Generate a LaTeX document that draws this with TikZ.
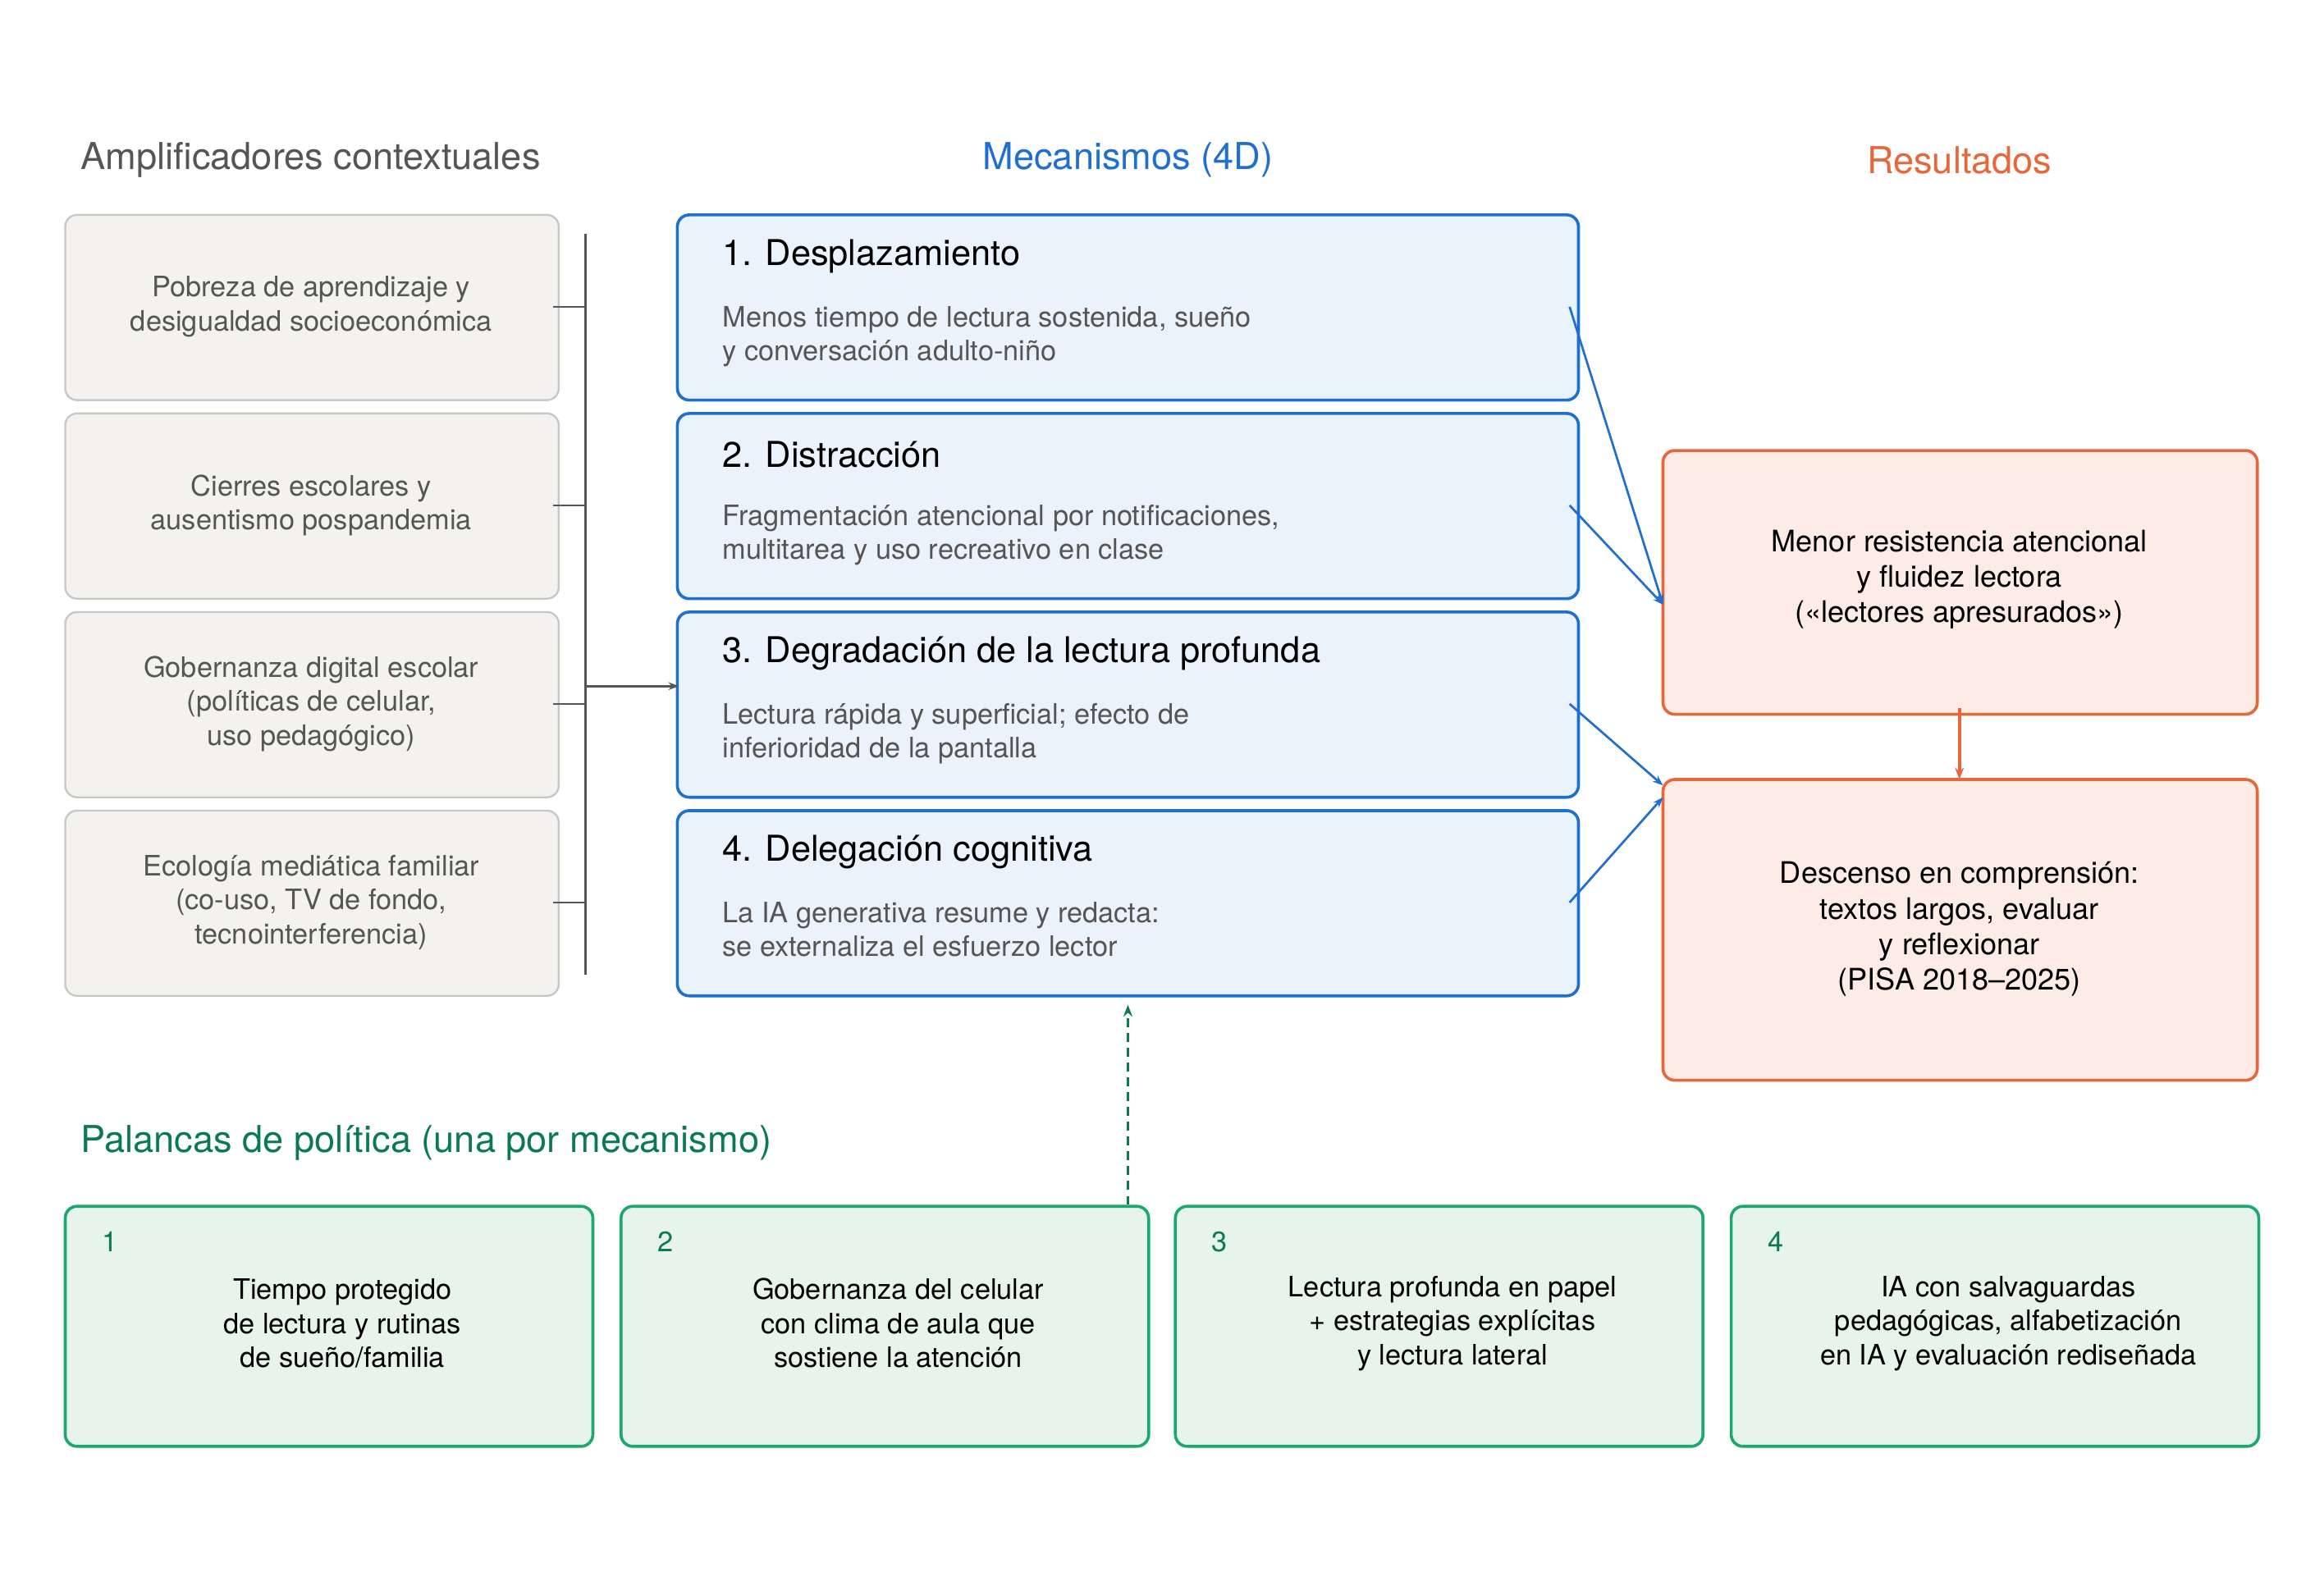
\documentclass[tikz,border=0pt]{standalone}
\usepackage{fontspec}
\setmainfont{TeX Gyre Heros}
\usetikzlibrary{arrows.meta}
\definecolor{gr}{HTML}{555555}
\definecolor{bl}{HTML}{1F6FD0}
\definecolor{orn}{HTML}{E8673A}
\definecolor{grn}{HTML}{0A7A55}
\begin{document}
\begin{tikzpicture}[x=1pt,y=-1pt,
 amp/.style={draw=black!22,fill=black!5!yellow!1!white,fill={rgb,255:red,243;green,242;blue,238},rounded corners=8,line width=1.3,align=center,text=gr,font=\fontsize{19}{23}\selectfont},
 mec/.style={draw=bl,fill={rgb,255:red,234;green,242;blue,251},rounded corners=8,line width=2},
 res/.style={draw=orn,fill={rgb,255:red,252;green,236;blue,229},rounded corners=8,line width=2,align=center,font=\fontsize{20}{24}\selectfont},
 pol/.style={draw={rgb,255:red,26;green,168;blue,110},fill={rgb,255:red,230;green,244;blue,236},rounded corners=8,line width=2},
 ttl/.style={anchor=west,font=\fontsize{24}{28}\selectfont},
 dsc/.style={anchor=north west,align=left,text=gr,font=\fontsize{19}{23}\selectfont},
 pt/.style={align=center,font=\fontsize{19}{23}\selectfont},
 hd/.style={font=\fontsize{25}{30}\selectfont},
 bla/.style={bl,line width=1.5,-{Stealth[length=7pt]}}]
\useasboundingbox (0,0) rectangle (1568,1070);
\node[hd,text=gr,anchor=west] (h1) at (51,108) {Amplificadores contextuales};
\node[hd,text=bl] (h2) at (761,108) {Mecanismos (4D)};
\node[hd,text=orn] (h3) at (1322,108) {Resultados};
% left boxes
\foreach \y/\t [count=\i] in {145/{Pobreza de aprendizaje y\\desigualdad socioeconómica},279/{Cierres escolares y\\ausentismo pospandemia},413/{Gobernanza digital escolar\\(políticas de celular,\\uso pedagógico)},547/{Ecología mediática familiar\\(co-uso, TV de fondo,\\tecnointerferencia)}}{
 \draw[amp] (44,\y) rectangle (377,\y+125);
 \node[amp,draw=none,fill=none] (a\i) at (210,\y+62) {\t};
 \draw[gr,line width=1.5] (373,\y+62) -- (395,\y+62);
}
\draw[gr,line width=1.5] (395,158) -- (395,658);
\coordinate (br) at (395,463);
% mech boxes
\foreach \y/\t/\d [count=\i] in {145/{1. Desplazamiento}/{Menos tiempo de lectura sostenida, sueño\\y conversación adulto-niño},279/{2. Distracción}/{Fragmentación atencional por notificaciones,\\multitarea y uso recreativo en clase},413/{3. Degradación de la lectura profunda}/{Lectura rápida y superficial; efecto de\\inferioridad de la pantalla},547/{4. Delegación cognitiva}/{La IA generativa resume y redacta:\\se externaliza el esfuerzo lector}}{
 \draw[mec] (457,\y) rectangle (1065,\y+125);
 \node[ttl] (m\i) at (484,\y+28) {\t};
 \node[dsc] (d\i) at (484,\y+58) {\d};
 \coordinate (o\i) at (1059,\y+62);
}
\coordinate (m3w) at (458,463);
\draw[gr,line width=1.5,-{Stealth[length=7pt]}] (br) -- (m3w);
% results
\draw[res] (1122,304) rectangle (1523,482);
\node[res,draw=none,fill=none] (r1) at (1322,391) {Menor resistencia atencional\\y fluidez lectora\\(«lectores apresurados»)};
\draw[res] (1122,526) rectangle (1523,729);
\node[res,draw=none,fill=none] (r2) at (1322,627) {Descenso en comprensión:\\textos largos, evaluar\\y reflexionar\\(PISA 2018–2025)};
\coordinate (r1w) at (1122,408);
\coordinate (r2w) at (1122,530);
\coordinate (r2wb) at (1122,538);
\draw[bla] (o1) -- (r1w);
\draw[bla] (o2) -- (r1w);
\draw[bla] (o3) -- (r2w);
\draw[bla] (o4) -- (r2wb);
\coordinate (r1s) at (1322,478);
\coordinate (r2n) at (1322,526);
\draw[orn,line width=2,-{Stealth[length=8pt]}] (r1s) -- (r2n);
% policy
\node[hd,text=grn,anchor=west] (h4) at (51,771) {Palancas de política (una por mecanismo)};
\foreach \x/\t [count=\i] in {44/{Tiempo protegido\\de lectura y rutinas\\de sueño/familia},419/{Gobernanza del celular\\con clima de aula que\\sostiene la atención},793/{Lectura profunda en papel\\+ estrategias explícitas\\y lectura lateral},1168/{IA con salvaguardas\\pedagógicas, alfabetización\\en IA y evaluación rediseñada}}{
 \draw[pol] (\x,814) rectangle (\x+356,976);
 \node[text=grn,font=\fontsize{19}{23}\selectfont] (n\i) at (\x+30,838) {\i};
 \node[pt] (p\i) at (\x+187,893) {\t};
}
\coordinate (ps) at (761,813);
\coordinate (m4s) at (761,678);
\draw[grn,line width=2,dashed,dash pattern=on 6pt off 4pt,-{Stealth[length=8pt]}] (ps) -- (m4s);
\end{tikzpicture}
\end{document}
